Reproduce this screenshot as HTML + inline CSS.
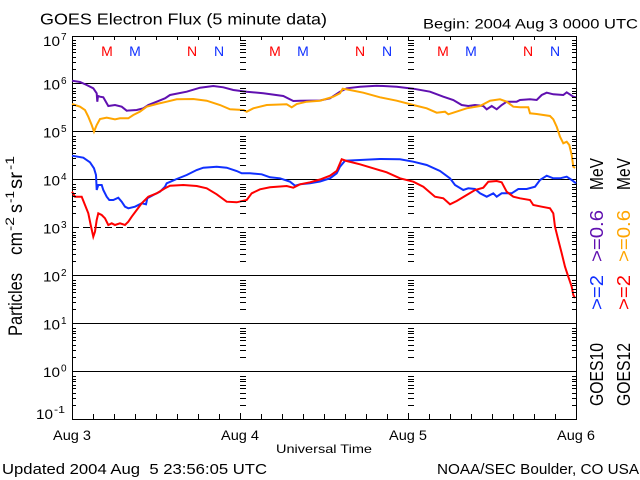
<!DOCTYPE html>
<html>
<head>
<meta charset="utf-8">
<style>
html,body{margin:0;padding:0;background:#fff;}
svg{display:block;}
text{font-family:"Liberation Sans",sans-serif;fill:#000;}
</style>
</head>
<body>
<svg width="640" height="480" viewBox="0 0 640 480" xmlns="http://www.w3.org/2000/svg">
<rect x="0" y="0" width="640" height="480" fill="#fff"/>

<!-- Titles -->
<text x="40" y="24.5" font-size="16" textLength="287" lengthAdjust="spacingAndGlyphs">GOES Electron Flux (5 minute data)</text>
<text x="423" y="28.5" font-size="14" textLength="215" lengthAdjust="spacingAndGlyphs">Begin: 2004 Aug 3 0000 UTC</text>

<!-- Gridlines -->
<g stroke="#000" stroke-width="1" fill="none">
<line x1="72" y1="83.5" x2="576" y2="83.5"/>
<line x1="72" y1="131.5" x2="576" y2="131.5"/>
<line x1="72" y1="179.5" x2="576" y2="179.5"/>
<line x1="72" y1="227.5" x2="576" y2="227.5" stroke-dasharray="7 4"/>
<line x1="72" y1="275.5" x2="576" y2="275.5"/>
<line x1="72" y1="323.5" x2="576" y2="323.5"/>
<line x1="72" y1="371.5" x2="576" y2="371.5"/>
<rect x="72.5" y="36.5" width="504" height="383"/>
</g>

<!-- Minor ticks (generated) -->
<g stroke="#000" stroke-width="1" id="ticks"></g>

<!-- Y tick labels -->
<g font-size="14">
<text x="43" y="46" textLength="17" lengthAdjust="spacingAndGlyphs">10</text><text x="61" y="40" font-size="10">7</text>
<text x="43" y="89.5" textLength="17" lengthAdjust="spacingAndGlyphs">10</text><text x="61" y="84" font-size="10">6</text>
<text x="43" y="137.5" textLength="17" lengthAdjust="spacingAndGlyphs">10</text><text x="61" y="132" font-size="10">5</text>
<text x="43" y="185.5" textLength="17" lengthAdjust="spacingAndGlyphs">10</text><text x="61" y="180" font-size="10">4</text>
<text x="43" y="233.5" textLength="17" lengthAdjust="spacingAndGlyphs">10</text><text x="61" y="228" font-size="10">3</text>
<text x="43" y="281.5" textLength="17" lengthAdjust="spacingAndGlyphs">10</text><text x="61" y="276" font-size="10">2</text>
<text x="43" y="329.5" textLength="17" lengthAdjust="spacingAndGlyphs">10</text><text x="61" y="324" font-size="10">1</text>
<text x="43" y="377" textLength="17" lengthAdjust="spacingAndGlyphs">10</text><text x="61" y="371.5" font-size="10">0</text>
<text x="36" y="419" textLength="17" lengthAdjust="spacingAndGlyphs">10</text><text x="54" y="413" font-size="10" textLength="11" lengthAdjust="spacingAndGlyphs">-1</text>
</g>

<!-- Y axis label -->
<g transform="translate(22,336) rotate(-90)" font-size="19">
<text x="0" y="0" textLength="63" lengthAdjust="spacingAndGlyphs">Particles</text>
<text x="81" y="0" textLength="23" lengthAdjust="spacingAndGlyphs">cm</text>
<text x="105" y="-8" font-size="12" textLength="14" lengthAdjust="spacingAndGlyphs">-2</text>
<text x="123" y="0" textLength="9" lengthAdjust="spacingAndGlyphs">s</text>
<text x="133" y="-8" font-size="12" textLength="12" lengthAdjust="spacingAndGlyphs">-1</text>
<text x="147" y="0" textLength="17" lengthAdjust="spacingAndGlyphs">sr</text>
<text x="166" y="-8" font-size="12" textLength="14" lengthAdjust="spacingAndGlyphs">-1</text>
</g>

<!-- M / N markers -->
<g font-size="14" text-anchor="middle">
<text x="107" y="56" fill="#ff0000" style="fill:#ff0000">M</text>
<text x="135" y="56" style="fill:#1030ff">M</text>
<text x="192" y="56" style="fill:#ff0000">N</text>
<text x="219" y="56" style="fill:#1030ff">N</text>
<text x="275" y="56" style="fill:#ff0000">M</text>
<text x="303" y="56" style="fill:#1030ff">M</text>
<text x="360" y="56" style="fill:#ff0000">N</text>
<text x="387" y="56" style="fill:#1030ff">N</text>
<text x="443" y="56" style="fill:#ff0000">M</text>
<text x="471" y="56" style="fill:#1030ff">M</text>
<text x="528" y="56" style="fill:#ff0000">N</text>
<text x="555" y="56" style="fill:#1030ff">N</text>
</g>

<!-- Data series -->
<g fill="none" stroke-width="2" stroke-linejoin="miter">
<polyline stroke="#6010b0" points="72,80.7 80,82 86.7,85 93.3,88.3 96.7,93.3 97.3,101.7 98,96 100,96.7 103.3,97.3 108.3,106 115,105 121.7,106.7 126.7,110.7 136.7,110 143.3,108.3 148.3,105 156.7,101.7 165,98.3 170,95 186.7,91.7 200,87.7 213.3,86 223.3,87.3 233.3,90 246.7,91.7 263.3,93.3 283.3,96 293.3,101 300,100.7 320,100.5 330,98.3 340,91.7 346.7,88.3 360,86.7 376.7,85.7 396.7,86.7 413.3,88.7 430,91.7 443.3,96.7 453.3,100 461.7,105 468.3,106 475,105 483.3,106 486.7,109.3 491.7,106 496.7,109.3 501.7,105 506.7,101.7 516.7,101.7 520,100 530,99.3 536.7,100 541.7,95 546.7,92.7 553.3,94.3 563.3,95 566.7,92.3 573.3,96.7 576,97.3"/>
<polyline stroke="#ffa500" points="72,104 80,106.7 85,110 88.3,116.7 91.7,125 94,131.7 96.7,125 100,119 106.7,117.7 115,119.3 120,118.3 128.3,118.3 133.3,115 140,111.7 146.7,106.7 156.7,104 166.7,101.7 176.7,99.3 193.3,99 206.7,100.7 220,105 230,109.3 243.3,110 246.7,111.7 253.3,108.3 266.7,105 286.7,104.3 291.7,107.3 296.7,104 306.7,101.7 320,100.7 333.3,96.7 340,93.3 342.7,88.7 350,90 363.3,92.7 380,97.3 396.7,100.7 413.3,105 426.7,108.3 436.7,112.7 445,111.7 448.3,114.3 453.3,112.7 466.7,108.3 480,106 490,100.7 500,99.3 506.7,101.7 513.3,106.7 520,107.3 528.3,107.3 530,113.3 536.7,114 550,116 553.3,119.3 556.7,126.7 560,136.7 563.3,143.3 566.7,141.7 569.3,145 571.7,155 573.3,166.7 575,168"/>
<polyline stroke="#1030ff" points="72,155.7 83.3,157.7 90,162.3 94,168.3 96,175 96.7,190 98.3,185 101.7,185 103.3,190 106.7,196.7 109.3,200 113.3,200 118.3,197.7 121.7,201.7 125,206.7 128.3,208.3 135,206.7 141.7,203.3 146,204.3 147.3,198.3 153.3,195 160,191.7 165,186.7 166.7,183.3 176.7,179 186.7,175 196.7,170 203.3,167.7 216.7,166.7 226.7,167.7 236.7,171 241.7,173.3 250,173.3 261.7,174.3 270,177.3 280,178.3 290,181.7 295,185.7 300,184.3 310,183.3 320,181.5 330,178.3 336.7,173.3 340,166.7 345,160.7 360,160 380,159 400,159.3 413.3,161.7 426.7,165 440,171 450,178.3 455,185 463.3,190 468.3,188.3 475,189 480,193.3 486.7,196.7 493.3,193.3 496.7,196.7 501.7,193.3 511.7,193.3 518.3,189 526.7,189 535,186.7 540,180 546.7,175.7 553.3,178.3 560,178.3 566.7,176.7 571.7,180 576,183.3"/>
<polyline stroke="#ff0000" points="72,191.7 75,196.7 81.7,196.7 85,205 88.3,213.3 90.7,225 93.3,236.7 95,231.7 96.7,220 98.3,213.3 101.7,215 105,218.3 108.3,225 111.7,223.3 115,225 120,223.3 125,225 128.3,221.7 131.7,216.7 136.7,210 141.7,203.3 148.3,196.7 156.7,193.3 165,188.3 170,185.7 183.3,185 196.7,186 206.7,188.3 216.7,194.3 226.7,201.7 236.7,202.3 246.7,200 251.7,193.3 260,189.3 270,187.3 286.7,186 293.3,187.7 300,184.3 310,182.3 320,179.5 330,175.7 336.7,171 340,163.3 341.7,159.3 346.7,161 360,164.3 373.3,168.3 386.7,172.3 400,178.3 413.3,181.7 423.3,186.7 435,196.7 443.3,198.3 450,204.3 456.7,201 466.7,195 475,190 483.3,187.7 488.3,181.7 496.7,181 501.7,182.3 506.7,191.7 513.3,196.7 520,198.3 530,200 533.3,205 541.7,206.7 550,208.3 553.3,213.3 555,226.7 558.3,240 561.7,253.3 565,266.7 568.3,276.7 571.7,286.7 573.3,295 575,298"/>
</g>

<!-- Right side rotated labels: column 1 (GOES10) -->
<g font-size="18">
<text transform="translate(603,406) rotate(-90)" textLength="63" lengthAdjust="spacingAndGlyphs">GOES10</text>
<text transform="translate(603,310) rotate(-90)" textLength="35" lengthAdjust="spacingAndGlyphs" style="fill:#1030ff">&gt;=2</text>
<text transform="translate(603,262) rotate(-90)" textLength="52" lengthAdjust="spacingAndGlyphs" style="fill:#6010b0">&gt;=0.6</text>
<text transform="translate(603,190) rotate(-90)" textLength="32" lengthAdjust="spacingAndGlyphs">MeV</text>
<text transform="translate(630,406) rotate(-90)" textLength="63" lengthAdjust="spacingAndGlyphs">GOES12</text>
<text transform="translate(630,310) rotate(-90)" textLength="35" lengthAdjust="spacingAndGlyphs" style="fill:#ff0000">&gt;=2</text>
<text transform="translate(630,262) rotate(-90)" textLength="52" lengthAdjust="spacingAndGlyphs" style="fill:#ffa500">&gt;=0.6</text>
<text transform="translate(630,190) rotate(-90)" textLength="32" lengthAdjust="spacingAndGlyphs">MeV</text>
</g>

<!-- X axis labels -->
<text x="53" y="440" font-size="14" textLength="38" lengthAdjust="spacingAndGlyphs">Aug 3</text>
<text x="221" y="440" font-size="14" textLength="38" lengthAdjust="spacingAndGlyphs">Aug 4</text>
<text x="389" y="440" font-size="14" textLength="38" lengthAdjust="spacingAndGlyphs">Aug 5</text>
<text x="557" y="440" font-size="14" textLength="38" lengthAdjust="spacingAndGlyphs">Aug 6</text>
<text x="276" y="453" font-size="12" textLength="96" lengthAdjust="spacingAndGlyphs">Universal Time</text>

<!-- Footer -->
<text x="2" y="474" font-size="15" textLength="265" lengthAdjust="spacingAndGlyphs" xml:space="preserve">Updated 2004 Aug  5 23:56:05 UTC</text>
<text x="437" y="474" font-size="15" textLength="202" lengthAdjust="spacingAndGlyphs">NOAA/SEC Boulder, CO USA</text>

<!-- Static tick marks -->
<g stroke="#000" stroke-width="1">
<path d="
M93.5,36 v4 M114.5,36 v4 M135.5,36 v4 M156.5,36 v4 M177.5,36 v4 M198.5,36 v4 M219.5,36 v4 M240.5,36 v5
M261.5,36 v4 M282.5,36 v4 M303.5,36 v4 M324.5,36 v4 M345.5,36 v4 M366.5,36 v4 M387.5,36 v4 M408.5,36 v5
M429.5,36 v4 M450.5,36 v4 M471.5,36 v4 M492.5,36 v4 M513.5,36 v4 M534.5,36 v4 M555.5,36 v4
M93.5,419 v-5 M114.5,419 v-5 M135.5,419 v-5 M156.5,419 v-5 M177.5,419 v-5 M198.5,419 v-5 M219.5,419 v-5 M240.5,419 v-6
M261.5,419 v-5 M282.5,419 v-5 M303.5,419 v-5 M324.5,419 v-5 M345.5,419 v-5 M366.5,419 v-5 M387.5,419 v-5 M408.5,419 v-6
M429.5,419 v-5 M450.5,419 v-5 M471.5,419 v-5 M492.5,419 v-5 M513.5,419 v-5 M534.5,419 v-5 M555.5,419 v-5
"/>
<!-- minor log ticks: left axis, right axis, day lines -->
<path d="
M72,69.5h4M72,62.5h4M72,57.5h4M72,52.5h4M72,49.5h4M72,45.5h4M72,43.5h4M72,40.5h4
M72,117.5h4M72,110.5h4M72,105.5h4M72,100.5h4M72,97.5h4M72,93.5h4M72,91.5h4M72,88.5h4
M72,165.5h4M72,158.5h4M72,153.5h4M72,148.5h4M72,145.5h4M72,141.5h4M72,139.5h4M72,136.5h4
M72,213.5h4M72,206.5h4M72,201.5h4M72,196.5h4M72,193.5h4M72,189.5h4M72,187.5h4M72,184.5h4
M72,261.5h4M72,254.5h4M72,249.5h4M72,244.5h4M72,241.5h4M72,237.5h4M72,235.5h4M72,232.5h4
M72,309.5h4M72,302.5h4M72,297.5h4M72,292.5h4M72,289.5h4M72,285.5h4M72,283.5h4M72,280.5h4
M72,357.5h4M72,350.5h4M72,345.5h4M72,340.5h4M72,337.5h4M72,333.5h4M72,331.5h4M72,328.5h4
M72,405.5h4M72,398.5h4M72,393.5h4M72,388.5h4M72,385.5h4M72,381.5h4M72,379.5h4M72,376.5h4
M577,69.5h-5M577,62.5h-5M577,57.5h-5M577,52.5h-5M577,49.5h-5M577,45.5h-5M577,43.5h-5M577,40.5h-5
M577,117.5h-5M577,110.5h-5M577,105.5h-5M577,100.5h-5M577,97.5h-5M577,93.5h-5M577,91.5h-5M577,88.5h-5
M577,165.5h-5M577,158.5h-5M577,153.5h-5M577,148.5h-5M577,145.5h-5M577,141.5h-5M577,139.5h-5M577,136.5h-5
M577,213.5h-5M577,206.5h-5M577,201.5h-5M577,196.5h-5M577,193.5h-5M577,189.5h-5M577,187.5h-5M577,184.5h-5
M577,261.5h-5M577,254.5h-5M577,249.5h-5M577,244.5h-5M577,241.5h-5M577,237.5h-5M577,235.5h-5M577,232.5h-5
M577,309.5h-5M577,302.5h-5M577,297.5h-5M577,292.5h-5M577,289.5h-5M577,285.5h-5M577,283.5h-5M577,280.5h-5
M577,357.5h-5M577,350.5h-5M577,345.5h-5M577,340.5h-5M577,337.5h-5M577,333.5h-5M577,331.5h-5M577,328.5h-5
M577,405.5h-5M577,398.5h-5M577,393.5h-5M577,388.5h-5M577,385.5h-5M577,381.5h-5M577,379.5h-5M577,376.5h-5
M240,69.5h6M240,62.5h6M240,57.5h6M240,52.5h6M240,49.5h6M240,45.5h6M240,43.5h6M240,40.5h6
M240,117.5h6M240,110.5h6M240,105.5h6M240,100.5h6M240,97.5h6M240,93.5h6M240,91.5h6M240,88.5h6
M240,165.5h6M240,158.5h6M240,153.5h6M240,148.5h6M240,145.5h6M240,141.5h6M240,139.5h6M240,136.5h6
M240,213.5h6M240,206.5h6M240,201.5h6M240,196.5h6M240,193.5h6M240,189.5h6M240,187.5h6M240,184.5h6
M240,261.5h6M240,254.5h6M240,249.5h6M240,244.5h6M240,241.5h6M240,237.5h6M240,235.5h6M240,232.5h6
M240,309.5h6M240,302.5h6M240,297.5h6M240,292.5h6M240,289.5h6M240,285.5h6M240,283.5h6M240,280.5h6
M240,357.5h6M240,350.5h6M240,345.5h6M240,340.5h6M240,337.5h6M240,333.5h6M240,331.5h6M240,328.5h6
M240,405.5h6M240,398.5h6M240,393.5h6M240,388.5h6M240,385.5h6M240,381.5h6M240,379.5h6M240,376.5h6
M408,69.5h6M408,62.5h6M408,57.5h6M408,52.5h6M408,49.5h6M408,45.5h6M408,43.5h6M408,40.5h6
M408,117.5h6M408,110.5h6M408,105.5h6M408,100.5h6M408,97.5h6M408,93.5h6M408,91.5h6M408,88.5h6
M408,165.5h6M408,158.5h6M408,153.5h6M408,148.5h6M408,145.5h6M408,141.5h6M408,139.5h6M408,136.5h6
M408,213.5h6M408,206.5h6M408,201.5h6M408,196.5h6M408,193.5h6M408,189.5h6M408,187.5h6M408,184.5h6
M408,261.5h6M408,254.5h6M408,249.5h6M408,244.5h6M408,241.5h6M408,237.5h6M408,235.5h6M408,232.5h6
M408,309.5h6M408,302.5h6M408,297.5h6M408,292.5h6M408,289.5h6M408,285.5h6M408,283.5h6M408,280.5h6
M408,357.5h6M408,350.5h6M408,345.5h6M408,340.5h6M408,337.5h6M408,333.5h6M408,331.5h6M408,328.5h6
M408,405.5h6M408,398.5h6M408,393.5h6M408,388.5h6M408,385.5h6M408,381.5h6M408,379.5h6M408,376.5h6
"/>
</g>
</svg>
</body>
</html>
